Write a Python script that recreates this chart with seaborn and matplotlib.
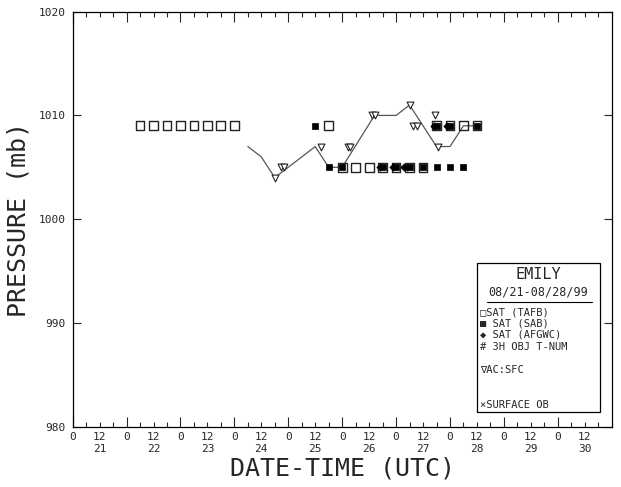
import numpy as np
import pandas as pd
import seaborn as sns
import matplotlib
matplotlib.use("Agg")
import matplotlib.pyplot as plt
from matplotlib.patches import Rectangle

# time in days of the month (UTC), pressure in mb
bt_time = [24.25, 24.5, 24.75, 25.5, 25.75, 26.0, 26.6, 27.0, 27.25, 27.75, 28.0, 28.25, 28.5]
bt_pres = [1007, 1006, 1004, 1007, 1005, 1005, 1010, 1010, 1011, 1007, 1007, 1009, 1009]

tafb_time = [22.25, 22.5, 22.75, 23.0, 23.25, 23.5, 23.75, 24.0, 25.75, 26.0,
             26.25, 26.5, 26.75, 27.0, 27.25, 27.5, 27.75, 28.0, 28.25, 28.5]
tafb_pres = [1009, 1009, 1009, 1009, 1009, 1009, 1009, 1009, 1009, 1005,
             1005, 1005, 1005, 1005, 1005, 1005, 1009, 1009, 1009, 1009]

sab_time = [25.5, 25.75, 26.0, 26.75, 27.0, 27.25, 27.5, 27.75, 28.0, 28.25, 27.75, 28.0, 28.5]
sab_pres = [1009, 1005, 1005, 1005, 1005, 1005, 1005, 1005, 1005, 1005, 1009, 1009, 1009]

afgwc_time = [26.7, 26.95, 27.15, 27.2, 27.7, 27.95]
afgwc_pres = [1005, 1005, 1005, 1005, 1009, 1009]

ac_time = [24.75, 24.87, 24.92, 25.6, 26.1, 26.15, 26.56, 26.6, 27.25, 27.32, 27.38, 27.72, 27.78]
ac_pres = [1004, 1005, 1005, 1007, 1007, 1007, 1010, 1010, 1011, 1009, 1009, 1010, 1007]

days = list(range(21, 31))
yticks = [980, 990, 1000, 1010, 1020]

sns.set_style("ticks")
plt.rcParams['font.family'] = ['DejaVu Sans Mono', 'DejaVu Sans']

fig = plt.figure(figsize=(6.21, 4.87), dpi=100)
ax = fig.add_axes([0.117, 0.124, 0.868, 0.852])

bt = pd.DataFrame({"t": bt_time, "p": bt_pres})
sns.lineplot(data=bt, x="t", y="p", color="#555555", linewidth=0.9, ax=ax, sort=False)

sns.scatterplot(x=tafb_time, y=tafb_pres, marker="s", s=40, facecolor="none",
                edgecolor="#222222", linewidth=1.0, ax=ax, zorder=3)
sns.scatterplot(x=sab_time, y=sab_pres, marker="s", s=13, color="black",
                edgecolor="black", linewidth=0.5, ax=ax, zorder=4)
sns.scatterplot(x=afgwc_time, y=afgwc_pres, marker="D", s=14, color="black",
                edgecolor="black", linewidth=0.5, ax=ax, zorder=4)
sns.scatterplot(x=ac_time, y=ac_pres, marker="v", s=24, facecolor="white",
                edgecolor="#222222", linewidth=0.8, ax=ax, zorder=5)

ax.set_xlim(21, 31)
ax.set_ylim(980, 1020)

# x ticks: long at 0Z, short every 6 h, labels 0 / 12 and day
ax.set_xticks(days)
ax.set_xticklabels(["0"] * len(days))
minor = [d + h for d in days for h in (0.25, 0.5, 0.75)]
minor_lab = [("12\n%d" % int(m)) if abs(m % 1 - 0.5) < 1e-6 else "" for m in minor]
ax.set_xticks(minor, minor=True)
ax.set_xticklabels(minor_lab, minor=True)
ax.set_yticks(yticks)
ax.set_yticklabels([str(v) for v in yticks])

ax.tick_params(axis="x", which="major", direction="in", length=7, width=0.8,
               top=True, bottom=True, labelsize=8, pad=4)
ax.tick_params(axis="x", which="minor", direction="in", length=3.5, width=0.8,
               top=True, bottom=True, labelsize=8, pad=4)
ax.tick_params(axis="y", which="major", direction="in", length=6, width=0.8,
               left=True, right=True, labelsize=8, pad=5)
for s in ax.spines.values():
    s.set_visible(True)
    s.set_linewidth(0.9)
    s.set_color("black")

ax.set_xlabel("DATE-TIME (UTC)", fontsize=18, labelpad=2)
ax.set_ylabel("PRESSURE (mb)", fontsize=18, labelpad=6)

# legend box
ax.add_patch(Rectangle((0.750, 0.035), 0.228, 0.359, transform=ax.transAxes,
                       facecolor="white", edgecolor="black", linewidth=0.9, zorder=6))
ax.text(0.864, 0.366, "EMILY", transform=ax.transAxes, ha="center", va="center",
        fontsize=11, zorder=7)
ax.text(0.864, 0.324, "08/21-08/28/99", transform=ax.transAxes, ha="center", va="center",
        fontsize=8.5, zorder=7)
ax.plot([0.769, 0.963], [0.301, 0.301], transform=ax.transAxes, color="black",
        linewidth=0.8, zorder=7)
entries = [("\u25a1SAT (TAFB)", 0.276), ("\u25a0 SAT (SAB)", 0.249),
           ("\u25c6 SAT (AFGWC)", 0.221), ("# 3H OBJ T-NUM", 0.193),
           ("\u2207AC:SFC", 0.137), ("\u00d7SURFACE OB", 0.052)]
for txt, yy in entries:
    ax.text(0.756, yy, txt, transform=ax.transAxes, ha="left", va="center",
            fontsize=7.5, zorder=7)

fig.savefig("out.png", dpi=100)
